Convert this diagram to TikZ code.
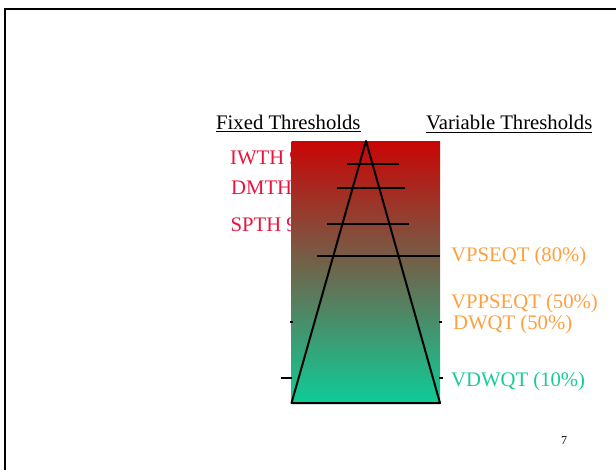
\documentclass[tikz,border=0pt]{standalone}
\usepackage{fontspec}
\setmainfont{Liberation Serif}
\definecolor{fixedred}{RGB}{232,20,60}
\definecolor{varorange}{RGB}{255,160,64}
\definecolor{varteal}{RGB}{22,204,152}
\definecolor{gradtop}{RGB}{200,6,6}
\definecolor{gradmid}{RGB}{150,144,110}
\definecolor{gradbot}{RGB}{14,204,152}
\tikzset{
  lbl/.style={anchor=base west, inner sep=0pt, font=\fontsize{20.7}{24}\selectfont},
  head/.style={lbl, text=black},
  fixedlbl/.style={lbl, text=fixedred},
  varlbl/.style={lbl, text=varorange},
  ruleline/.style={line width=2pt, black},
  tick/.style={line width=1.5pt, black},
}
\begin{document}
\begin{tikzpicture}[x=1pt, y=-1pt]
\useasboundingbox (0,0) rectangle (616,470);
% slide frame
\draw[line width=2pt] (4.5,470) -- (4.5,9.5) -- (616,9.5);

% column headings
\node[head] (fixed) at (216,130) {\underline{Fixed Thresholds}};
\node[head] (var) at (426,130) {\underline{Variable Thresholds}};

% fixed threshold labels (partly covered by the gradient bar)
\node[fixedlbl] (iwth) at (230,165) {IWTH 9};
\node[fixedlbl] (dmth) at (231,195) {DMTH};
\node[fixedlbl] (spth) at (230.5,232) {SPTH 9};

% gradient bar
\shade[top color=gradtop, middle color=gradmid, bottom color=gradbot]
  (291.5,142) rectangle (440,403);

% ladder triangle
\coordinate (apex) at (366,141);
\coordinate (bl) at (291.5,403);
\coordinate (br) at (440,403);
\draw[ruleline, line join=round] (bl) -- (apex) -- (br) -- cycle;

% threshold rungs
\draw[ruleline] (347,164) -- (399,164);
\draw[ruleline] (337,188) -- (405,188);
\draw[ruleline] (327,224) -- (409,224);
\draw[ruleline] (317,256) -- (440,256);
\draw[tick] (290,322) -- (293,322);
\draw[tick] (439,322) -- (442,322);
\draw[tick] (281,378) -- (292,378);
\draw[tick] (439,378) -- (443,378);

% variable threshold labels
\node[varlbl] (vpseqt) at (451,262) {VPSEQT (80\%)};
\node[varlbl] (vppseqt) at (451,309) {VPPSEQT (50\%)};
\node[varlbl] (dwqt) at (453,330) {DWQT (50\%)};
\node[lbl, text=varteal] (vdwqt) at (451,386) {VDWQT (10\%)};

% page number
\node[anchor=base west, inner sep=0pt, font=\fontsize{12}{14}\selectfont] (pg) at (561,444) {7};
\end{tikzpicture}
\end{document}
